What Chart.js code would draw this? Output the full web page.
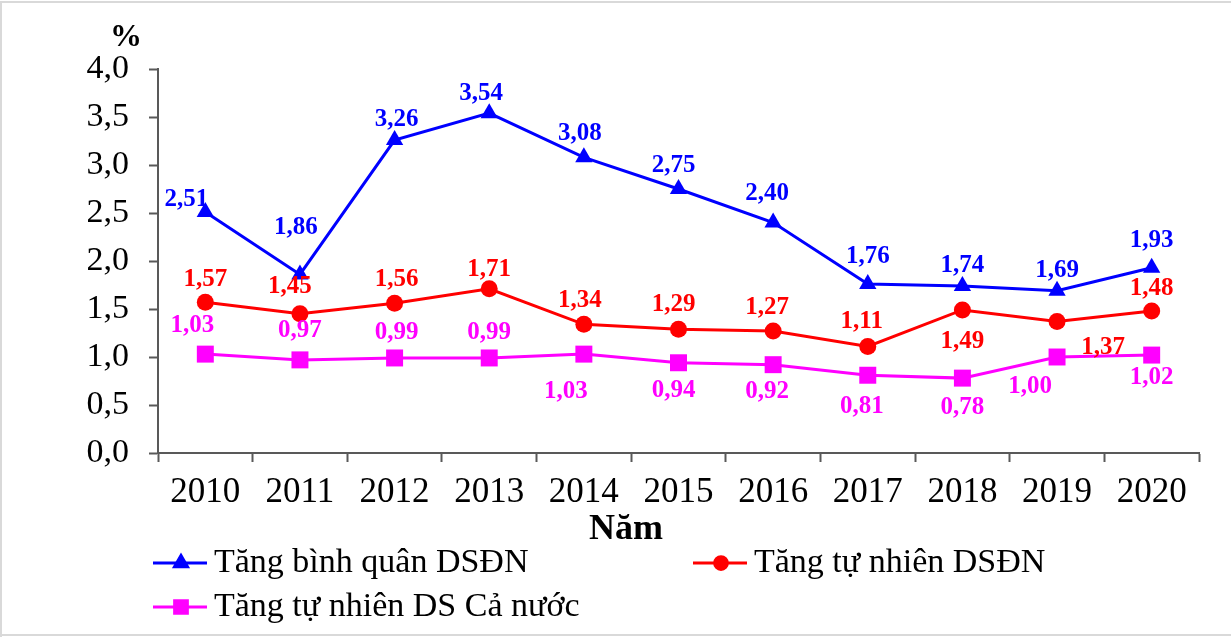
<!DOCTYPE html>
<html>
<head>
<meta charset="utf-8">
<script src="https://cdn.jsdelivr.net/npm/chart.js@4/dist/chart.umd.min.js"></script>
<style>
  html, body { margin: 0; padding: 0; background: #fff; }
  #wrap { width: 1231px; height: 637px; position: relative; }
</style>
</head>
<body>
<div id="wrap"><canvas id="lineChart" width="1231" height="637"></canvas></div>
<script>
const years = ['2010', '2011', '2012', '2013', '2014', '2015', '2016', '2017', '2018', '2019', '2020'];
const tangBinhQuanDSDN = [2.51, 1.86, 3.26, 3.54, 3.08, 2.75, 2.40, 1.76, 1.74, 1.69, 1.93];
const tangTuNhienDSDN = [1.57, 1.45, 1.56, 1.71, 1.34, 1.29, 1.27, 1.11, 1.49, 1.37, 1.48];
const tangTuNhienCaNuoc = [1.03, 0.97, 0.99, 0.99, 1.03, 0.94, 0.92, 0.81, 0.78, 1.00, 1.02];
const yTicks = [0, 0.5, 1, 1.5, 2, 2.5, 3, 3.5, 4];

const serif = '"Liberation Serif", "Times New Roman", serif';
const fmt = v => v.toFixed(2).replace('.', ',');

// vị trí nhãn số liệu so với điểm (dx, dy)
const labelOffsets = [
  [[-19, -12], [-4, -47], [2, -20], [-8, -20], [-4, -24], [-5, -23], [-6, -29], [0, -27], [0, -20], [0, -20], [0, -27]],
  [[0, -23], [-10, -27], [2, -24], [0, -19], [-4, -24], [-5, -25], [-6, -24], [-6, -25], [0, 32], [46, 26], [0, -22]],
  [[-13, -29], [0, -29], [2, -25], [0, -25], [-18, 37], [-5, 28], [-6, 27], [-6, 31], [0, 29], [-27, 30], [0, 22]]
];

const legendPos = [[153, 563], [693, 563], [153, 607]];

// nhãn số liệu, chú giải, đơn vị và khung
const extrasPlugin = {
  id: 'extras',
  afterDatasetsDraw(chart) {
    const ctx = chart.ctx;
    ctx.save();
    ctx.font = 'bold 25px ' + serif;
    ctx.textAlign = 'center';
    ctx.textBaseline = 'middle';
    chart.data.datasets.forEach((ds, i) => {
      const meta = chart.getDatasetMeta(i);
      ctx.fillStyle = ds.borderColor;
      meta.data.forEach((pt, j) => {
        const off = labelOffsets[i][j];
        ctx.fillText(fmt(ds.data[j]), pt.x + off[0], pt.y + off[1]);
      });
    });

    // đơn vị trục tung
    ctx.fillStyle = '#000';
    ctx.font = 'bold 32px ' + serif;
    ctx.fillText('%', 126, 38);
    // tiêu đề trục hoành
    ctx.font = 'bold 36px ' + serif;
    ctx.fillText('Năm', 626, 530);

    // chú giải
    chart.data.datasets.forEach((ds, i) => {
      const [x, y] = legendPos[i];
      ctx.strokeStyle = ds.borderColor;
      ctx.lineWidth = 3;
      ctx.beginPath();
      ctx.moveTo(x, y);
      ctx.lineTo(x + 54, y);
      ctx.stroke();
      ctx.fillStyle = ds.borderColor;
      Chart.helpers.drawPoint(ctx, {
        pointStyle: ds.pointStyle,
        radius: ds.pointRadius * 0.75,
        borderWidth: 1,
        rotation: 0
      }, x + 28, y);
      ctx.fill();
      ctx.fillStyle = '#000';
      ctx.font = '34px ' + serif;
      ctx.textAlign = 'left';
      ctx.fillText(ds.label, x + 61, y);
    });

    // khung ngoài
    ctx.strokeStyle = '#d9d9d9';
    ctx.lineWidth = 2;
    ctx.beginPath();
    ctx.moveTo(1, 637);
    ctx.lineTo(1, 2);
    ctx.lineTo(1231, 2);
    ctx.moveTo(0, 635);
    ctx.lineTo(1231, 635);
    ctx.stroke();
    ctx.restore();
  }
};

const data = {
  labels: years,
  datasets: [
    {
      label: 'Tăng bình quân DSĐN',
      data: tangBinhQuanDSDN,
      borderColor: '#0000ff',
      backgroundColor: '#0000ff',
      pointStyle: 'triangle',
      pointRadius: 10
    },
    {
      label: 'Tăng tự nhiên DSĐN',
      data: tangTuNhienDSDN,
      borderColor: '#ff0000',
      backgroundColor: '#ff0000',
      pointStyle: 'circle',
      pointRadius: 8.5
    },
    {
      label: 'Tăng tự nhiên DS Cả nước',
      data: tangTuNhienCaNuoc,
      borderColor: '#ff00ff',
      backgroundColor: '#ff00ff',
      pointStyle: 'rect',
      pointRadius: 12
    }
  ]
};
data.datasets.forEach(ds => {
  ds.borderWidth = 3;
  ds.pointBorderWidth = 0;
  ds.tension = 0;
});

const options = {
  responsive: false,
  animation: false,
  layout: { padding: { top: 69, right: 32, left: 0, bottom: 0 } },
  plugins: { legend: { display: false }, tooltip: { enabled: false } },
  scales: {
    x: {
      offset: true,
      grid: { offset: true, drawOnChartArea: false, drawTicks: true, tickLength: 9, tickColor: '#595959', tickWidth: 2 },
      border: { color: '#595959', width: 2 },
      ticks: { color: '#000', font: { family: serif, size: 35 }, padding: 10, maxRotation: 0 },
      afterFit: s => { s.height = 184; }
    },
    y: {
      min: 0,
      max: 4,
      afterBuildTicks: s => { s.ticks = yTicks.map(v => ({ value: v })); },
      grid: { drawOnChartArea: false, drawTicks: true, tickLength: 9, tickColor: '#595959', tickWidth: 2 },
      border: { color: '#595959', width: 2 },
      ticks: { color: '#000', font: { family: serif, size: 34 }, padding: 20, callback: v => v.toFixed(1).replace('.', ',') },
      afterFit: s => { s.width = 158; }
    }
  }
};

const ctx = document.getElementById('lineChart').getContext('2d');
const myLineChart = new Chart(ctx, {
  type: 'line',
  data: data,
  options: options,
  plugins: [extrasPlugin]
});
</script>
</body>
</html>
